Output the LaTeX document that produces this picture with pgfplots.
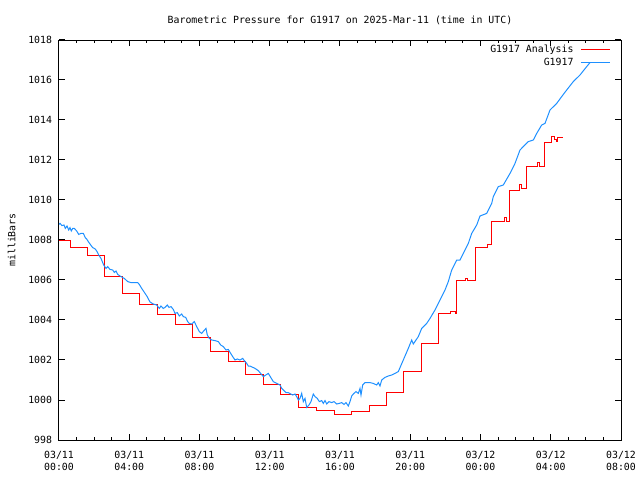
\documentclass[border=0pt]{standalone}
\usepackage{fontspec}
\setmainfont{DejaVu Sans Mono}
\usepackage{pgfplots}
\pgfplotsset{compat=1.18}
\definecolor{gred}{RGB}{255,0,0}
\definecolor{gblue}{RGB}{30,144,255}
\newcommand{\gfont}{\fontsize{7.4}{9}\selectfont}
\begin{document}
\begin{tikzpicture}
\path (0,0) rectangle (480pt,360pt);
\begin{axis}[
 at={(44.25pt,30pt)}, anchor=south west,
 scale only axis, width=421.5pt, height=300pt,
 xmin=0, xmax=32, ymin=998, ymax=1018,
 xtick={0,4,...,32}, minor x tick num=3,
 xticklabels={03/11\\00:00,03/11\\04:00,03/11\\08:00,03/11\\12:00,03/11\\16:00,03/11\\20:00,03/12\\00:00,03/12\\04:00,03/12\\08:00},
 ytick={998,1000,...,1018},
 yticklabels={998,1000,1002,1004,1006,1008,1010,1012,1014,1016,1018},
 tick align=inside, major tick length=4.5pt, minor tick length=2.25pt,
 tick style={black, line width=0.75pt},
 axis line style={line width=0.75pt},
 x tick label style={font=\gfont, align=center, anchor=north, inner sep=0pt, yshift=-8pt},
 y tick label style={font=\gfont, anchor=east, inner sep=0pt, xshift=-5pt},
 title={Barometric Pressure for G1917 on 2025-Mar-11 (time in UTC)},
 title style={font=\gfont, at={(rel axis cs:0.5,1)}, anchor=center, yshift=9pt},
 ylabel={milliBars},
 ylabel style={font=\gfont, at={(rel axis cs:0,0.5)}, anchor=center, yshift=35.5pt},
 legend plot pos=right,
 legend cell align=right,
 legend image code/.code={\draw[#1] (0pt,0pt) -- (21.75pt,0pt);},
 legend style={draw=none, fill=none, font=\gfont, at={(rel axis cs:1,1)}, anchor=north east,
   xshift=-7.75pt, yshift=-2.5pt, inner sep=0pt, row sep=0pt, column sep=4pt,
   nodes={text height=5.4pt, text depth=1.7pt, inner sep=1.2pt}},
]
\addplot[const plot, gred, line width=0.75pt] coordinates {
(0,1008.0) (0.63,1007.63) (1.63,1007.25) (2.6,1006.18) (3.6,1005.35) (4.6,1004.78)
(5.6,1004.28) (6.63,1003.78) (7.62,1003.13) (8.65,1002.45) (9.65,1001.93) (10.62,1001.3)
(11.63,1000.8) (12.64,1000.3) (13.66,999.63) (14.66,999.47) (15.66,999.28) (16.66,999.45)
(17.66,999.73) (18.62,1000.4) (19.6,1001.43) (20.64,1002.83) (21.63,1004.33) (22.3,1004.42)
(22.55,1004.32) (22.66,1006.0) (23.15,1006.1) (23.25,1006.0) (23.7,1007.63) (24.4,1007.8) (24.64,1008.92)
(25.35,1009.15) (25.5,1008.95) (25.64,1010.5) (26.2,1010.8) (26.35,1010.6) (26.63,1011.67)
(27.25,1011.9) (27.35,1011.67) (27.63,1012.88) (28.05,1013.2) (28.2,1013.05) (28.33,1012.92) (28.39,1013.13) (28.68,1013.13)
};
\addlegendentry{G1917 Analysis}
\addplot[gblue, line width=0.75pt] coordinates {
(0,1008.78) (0.057,1008.83) (0.171,1008.72) (0.285,1008.75) (0.359,1008.58) (0.456,1008.70)
(0.552,1008.5) (0.626,1008.62) (0.700,1008.45) (0.780,1008.58) (0.871,1008.58) (1.008,1008.45)
(1.122,1008.28) (1.253,1008.33) (1.384,1008.33) (1.498,1008.12) (1.577,1008.05) (1.668,1007.92)
(1.782,1007.78) (1.919,1007.62) (2.067,1007.55) (2.164,1007.42) (2.260,1007.25) (2.391,1007.08)
(2.545,1006.75) (2.676,1006.58) (2.773,1006.67) (2.904,1006.53) (3.058,1006.5) (3.149,1006.38)
(3.246,1006.45) (3.342,1006.28) (3.530,1006.17) (3.718,1006.08) (3.912,1005.92) (4.100,1005.87)
(4.481,1005.87) (4.572,1005.78) (4.709,1005.58) (5.0,1005.2) (5.181,1004.9)
(5.369,1004.8) (5.563,1004.75) (5.711,1004.58) (5.808,1004.7) (5.939,1004.58) (6.036,1004.63)
(6.167,1004.75) (6.263,1004.63) (6.377,1004.67) (6.508,1004.53) (6.605,1004.33) (6.736,1004.37)
(6.850,1004.2) (6.986,1004.3) (7.078,1004.17) (7.214,1004.13) (7.328,1003.92) (7.419,1003.83)
(7.556,1003.8) (7.704,1003.92) (7.841,1003.67) (7.989,1003.42) (8.125,1003.33) (8.256,1003.47)
(8.370,1003.58) (8.444,1003.25) (8.558,1003.08) (8.695,1003.0) (8.883,1002.97) (9.071,1002.92)
(9.207,1002.75) (9.355,1002.67) (9.509,1002.5) (9.640,1002.53) (9.777,1002.33) (9.891,1002.17)
(10.021,1002.0) (10.152,1002.05) (10.306,1002.0) (10.460,1002.08) (10.551,1001.97) (10.688,1001.83)
(10.779,1001.7) (10.876,1001.7) (11.160,1001.58) (11.348,1001.47) (11.633,1001.17) (11.918,1001.33)
(12.202,1000.92) (12.584,1000.75) (12.680,1000.58) (12.811,1000.47) (12.925,1000.37) (13.056,1000.37)
(13.193,1000.3) (13.307,1000.25) (13.438,1000.3) (13.535,1000.17) (13.626,1000.0) (13.722,1000.08)
(13.819,1000.33) (13.911,999.92) (14.007,1000.08) (14.104,999.63) (14.235,999.75) (14.349,999.92)
(14.480,1000.3) (14.577,1000.17) (14.708,1000.08) (14.822,999.92) (14.958,999.97) (15.050,999.83)
(15.146,999.97) (15.243,999.8) (15.374,999.92) (15.528,999.87) (15.658,999.92) (15.812,999.8)
(15.960,999.83) (16.097,999.87) (16.228,999.78) (16.342,999.87) (16.473,999.7) (16.569,999.92)
(16.666,1000.2) (16.758,1000.3) (16.911,1000.42) (17.042,1000.33) (17.139,1000.58) (17.196,1000.25)
(17.292,1000.75) (17.423,1000.87) (17.708,1000.87) (17.896,1000.83) (18.090,1000.75) (18.181,1000.87)
(18.278,1000.7) (18.374,1001.0) (18.562,1001.13) (18.750,1001.2) (18.944,1001.25) (19.132,1001.33)
(19.320,1001.42) (19.604,1002.0) (19.889,1002.58) (20.083,1003.0)
(20.174,1002.8) (20.459,1003.17) (20.652,1003.58) (20.937,1003.83) (21.125,1004.08) (21.409,1004.5)
(21.694,1005.0) (21.979,1005.5) (22.167,1005.92) (22.360,1006.5) (22.645,1007.0) (22.833,1007.0)
(23.021,1007.33) (23.306,1007.83) (23.499,1008.33) (23.784,1008.75) (23.972,1009.2) (24.353,1009.33)
(24.638,1009.83) (24.729,1010.17) (25.014,1010.67) (25.299,1010.75) (25.680,1011.33) (25.964,1011.83)
(26.249,1012.5) (26.437,1012.67) (26.722,1012.92) (27.007,1013.0) (27.200,1013.33) (27.485,1013.75)
(27.673,1013.83) (27.957,1014.5) (28.339,1014.83) (28.623,1015.17) (28.908,1015.5) (29.284,1015.92)
(29.665,1016.25) (30.047,1016.67) (30.235,1016.87)
};
\addlegendentry{G1917}
\end{axis}
\end{tikzpicture}
\end{document}
